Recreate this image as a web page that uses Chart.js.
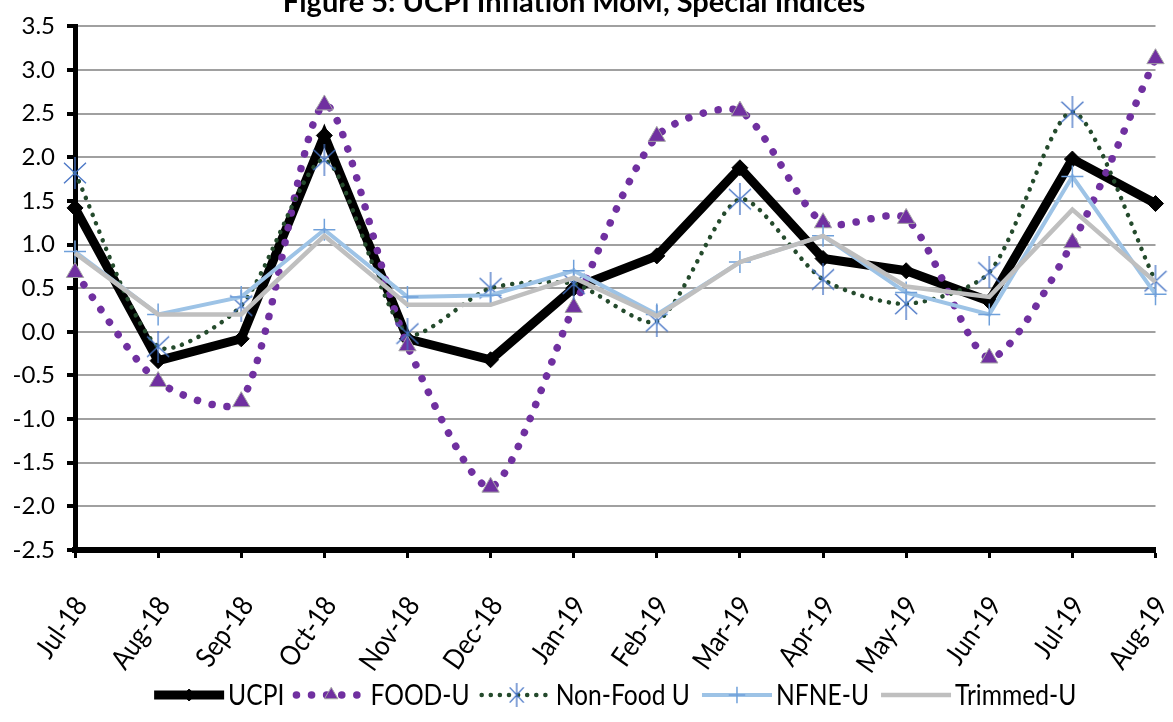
<!DOCTYPE html>
<html lang="en">
<head>
  <meta charset="UTF-8">
  <title>UCPI Inflation MoM, Special Indices</title>
  <script src="https://cdn.jsdelivr.net/npm/chart.js"></script>
  <style>
    body { margin: 0; padding: 0; background: #fff; overflow: hidden; }
    #wrap { position: relative; width: 1173px; height: 722px; }
  </style>
</head>
<body>
  <div id="wrap"><canvas id="chart" width="1173" height="722"></canvas></div>

  <script>
    // data
    const categories = ['Jul-18','Aug-18','Sep-18','Oct-18','Nov-18','Dec-18','Jan-19',
                        'Feb-19','Mar-19','Apr-19','May-19','Jun-19','Jul-19','Aug-19'];
    const ucpi     = [1.42, -0.33, -0.08, 2.25, -0.08, -0.32, 0.50, 0.87, 1.88, 0.84, 0.70, 0.35, 1.98, 1.47];
    const foodU    = [0.68, -0.57, -0.80, 2.60, -0.16, -1.78, 0.28, 2.24, 2.53, 1.25, 1.30, -0.30, 1.02, 3.13];
    const nonFoodU = [1.82, -0.17, 0.30, 1.97, -0.02, 0.50, 0.55, 0.12, 1.52, 0.60, 0.32, 0.68, 2.52, 0.58];
    const nfneU    = [0.92, 0.20, 0.40, 1.17, 0.40, 0.42, 0.70, 0.20, 0.80, 1.10, 0.45, 0.20, 1.78, 0.43];
    const trimmedU = [0.90, 0.20, 0.20, 1.10, 0.31, 0.31, 0.62, 0.18, 0.80, 1.10, 0.52, 0.40, 1.40, 0.57];
    const seriesNames = ['UCPI', 'FOOD-U', 'Non-Food U', 'NFNE-U', 'Trimmed-U'];
    const yMin = -2.5, yMax = 3.5, yStep = 0.5;
    const titleText = 'Figure 5: UCPI Inflation MoM, Special Indices';

    const FONT = 'Lato, "Liberation Sans", sans-serif';
    const SQUEEZE = 0.88;   // no condensed font installed, so narrow the text by hand

    // Excel style star marker: an X with a vertical bar
    function starMarker(w, h) {
      const c = document.createElement('canvas');
      c.width = w; c.height = h;
      const g = c.getContext('2d');
      g.strokeStyle = '#4472C4';
      g.lineWidth = 1.3;
      g.beginPath();
      g.moveTo(1, h * 0.18); g.lineTo(w - 1, h * 0.82);
      g.moveTo(w - 1, h * 0.18); g.lineTo(1, h * 0.82);
      g.moveTo(w / 2, 0); g.lineTo(w / 2, h);
      g.stroke();
      return c;
    }
    const star = starMarker(24, 32);
    const starSmall = starMarker(16, 24);

    const datasets = [
      {
        label: seriesNames[0], data: ucpi, order: 5,
        borderColor: '#000', backgroundColor: '#000', borderWidth: 9,
        borderJoinStyle: 'miter', tension: 0,
        pointStyle: 'rectRot', pointRadius: 8, pointBorderWidth: 1,
        pointBackgroundColor: '#000', pointBorderColor: '#000'
      },
      {
        label: seriesNames[1], data: foodU, order: 4,
        borderColor: '#7030A0', borderWidth: 7.5, borderDash: [0.1, 15], borderCapStyle: 'round',
        tension: 0.25,
        pointStyle: 'triangle', pointRadius: 10, pointBorderWidth: 1,
        pointBackgroundColor: '#7030A0', pointBorderColor: '#A6A6A6'
      },
      {
        label: seriesNames[2], data: nonFoodU, order: 3,
        borderColor: '#244A2C', borderWidth: 4.5, borderDash: [0.1, 9], borderCapStyle: 'round',
        tension: 0.25,
        pointStyle: star, pointRadius: 13
      },
      {
        label: seriesNames[3], data: nfneU, order: 2,
        borderColor: '#9DC3E6', borderWidth: 4, tension: 0,
        pointStyle: 'cross', pointRadius: 11, pointBorderWidth: 1.5,
        pointBorderColor: '#6FA0DA', pointBackgroundColor: '#6FA0DA'
      },
      {
        label: seriesNames[4], data: trimmedU, order: 1,
        borderColor: '#BFBFBF', borderWidth: 4.5, tension: 0,
        pointRadius: 0
      }
    ];

    const titlePlugin = {
      id: 'topTitle',
      afterDraw(chart) {
        const ctx = chart.ctx;
        ctx.save();
        ctx.font = 'bold 29px ' + FONT;
        ctx.fillStyle = '#000';
        ctx.textAlign = 'center';
        ctx.textBaseline = 'alphabetic';
        ctx.fillText(titleText, 574, 12);
        ctx.restore();
      }
    };

    // category labels, placed on the x scale's own tick positions
    const xLabelPlugin = {
      id: 'xLabels',
      afterDraw(chart) {
        const ctx = chart.ctx;
        const xs = chart.scales.x;
        const top = xs.top;
        categories.forEach((c, i) => {
          const px = xs.getPixelForTick(i);
          ctx.save();
          ctx.translate(px + 6, top + 50);
          ctx.rotate(-55 * Math.PI / 180);
          ctx.scale(SQUEEZE, 1);
          ctx.font = '28px ' + FONT;
          ctx.fillStyle = '#000';
          ctx.textAlign = 'right';
          ctx.textBaseline = 'middle';
          ctx.fillText(c, 0, 0);
          ctx.restore();
        });
      }
    };

    function drawSample(ctx, ds, x0, x1, y) {
      ctx.save();
      ctx.strokeStyle = ds.borderColor;
      ctx.lineWidth = ds.borderWidth;
      ctx.lineCap = ds.borderCapStyle || 'butt';
      ctx.setLineDash(ds.borderDash || []);
      ctx.beginPath();
      ctx.moveTo(x0, y); ctx.lineTo(x1, y);
      ctx.stroke();
      ctx.setLineDash([]);
      const xm = (x0 + x1) / 2;
      if (ds.pointStyle instanceof HTMLCanvasElement) {
        ctx.drawImage(starSmall, xm - starSmall.width / 2, y - starSmall.height / 2);
      } else if (ds.pointRadius) {
        ctx.fillStyle = ds.pointBackgroundColor;
        ctx.strokeStyle = ds.pointBorderColor;
        ctx.lineWidth = ds.pointBorderWidth;
        Chart.helpers.drawPoint(ctx, {
          pointStyle: ds.pointStyle, radius: ds.pointRadius * 0.75, rotation: 0,
          borderWidth: ds.pointBorderWidth
        }, xm, y);
      }
      ctx.restore();
    }

    const legendPlugin = {
      id: 'bottomLegend',
      afterDraw(chart) {
        const ctx = chart.ctx;
        const sampleW = 70, gap = 4, itemGap = 12, y = 695;
        const font = '28px ' + FONT;
        ctx.save();
        ctx.font = font;
        const widths = datasets.map(d => ctx.measureText(d.label).width * SQUEEZE);
        const total = widths.reduce((s, w) => s + sampleW + gap + w, 0) + itemGap * (datasets.length - 1);
        let x = (chart.chartArea.left + chart.chartArea.right) / 2 - total / 2;
        ctx.restore();
        datasets.forEach((ds, i) => {
          drawSample(ctx, ds, x, x + sampleW, y);
          ctx.save();
          ctx.translate(x + sampleW + gap, y + 1);
          ctx.scale(SQUEEZE, 1);
          ctx.font = font;
          ctx.fillStyle = '#000';
          ctx.textBaseline = 'middle';
          ctx.fillText(ds.label, 0, 0);
          ctx.restore();
          x += sampleW + gap + widths[i] + itemGap;
        });
      }
    };

    new Chart(document.getElementById('chart').getContext('2d'), {
      type: 'line',
      data: { labels: categories, datasets: datasets },
      plugins: [titlePlugin, xLabelPlugin, legendPlugin],
      options: {
        responsive: false,
        animation: false,
        clip: false,
        layout: { padding: { left: 0, top: 22, right: 16, bottom: 0 } },
        plugins: { legend: { display: false }, tooltip: { enabled: false }, title: { display: false } },
        scales: {
          x: {
            offset: false,
            grid: { drawOnChartArea: false, drawTicks: true, tickLength: 8, tickColor: '#000', tickWidth: 3 },
            border: { display: true, color: '#000', width: 6 },
            ticks: { display: false, autoSkip: false },
            afterFit(scale) { scale.height = 172; scale.paddingLeft = 0; scale.paddingRight = 0; }
          },
          y: {
            min: yMin, max: yMax,
            grid: { color: '#A0A0A0', lineWidth: 2, tickLength: 8, tickColor: '#000', tickWidth: 4 },
            border: { display: true, color: '#000', width: 5 },
            ticks: {
              stepSize: yStep, color: '#000', padding: 12,
              font: { family: FONT, size: 24 },
              callback: v => v.toFixed(1)
            },
            afterFit(scale) { scale.width = 75; }
          }
        }
      }
    });
  </script>
</body>
</html>
